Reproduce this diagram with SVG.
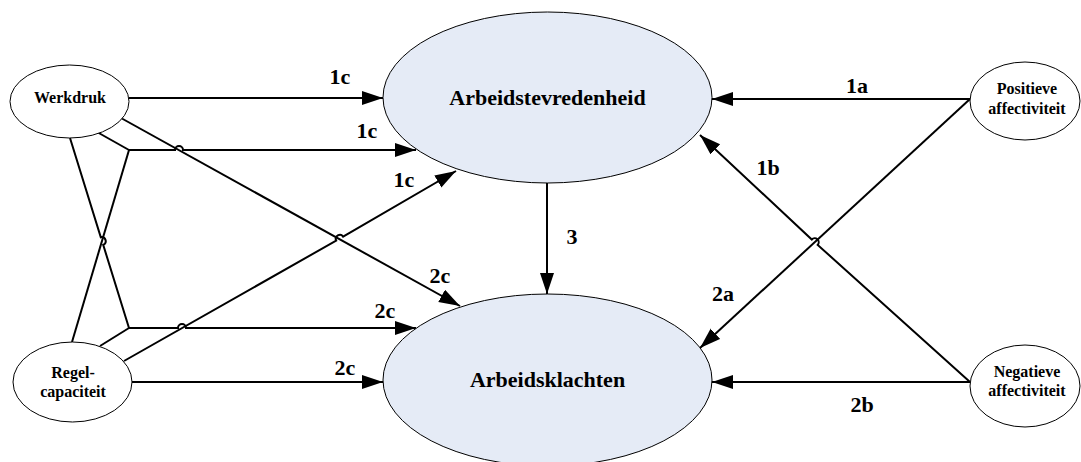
<svg xmlns="http://www.w3.org/2000/svg" width="1081" height="462" viewBox="0 0 1081 462">
  <style>
    .node-main { fill: #e5ebf6; stroke: #000; stroke-width: 1; }
    .node-small { fill: #fff; stroke: #000; stroke-width: 1; }
    .title { font-family: "Liberation Serif", "Times New Roman", serif; font-weight: bold; font-size: 22px; text-anchor: middle; fill: #000; }
    .name { font-family: "Liberation Serif", "Times New Roman", serif; font-weight: bold; font-size: 16px; text-anchor: middle; fill: #000; }
    .label { font-family: "Liberation Serif", "Times New Roman", serif; font-weight: bold; font-size: 22px; text-anchor: middle; fill: #000; }
    .edge { fill: none; stroke: #000; stroke-width: 2; }
    .arrow { marker-end: url(#head); }
  </style>
  <defs>
    <marker id="head" markerUnits="userSpaceOnUse" markerWidth="22" markerHeight="16" refX="21" refY="7" orient="auto">
      <path d="M0,0 L21,7 L0,14 z" fill="#000"/>
    </marker>
  </defs>

  <!-- connectors -->
  <g id="connectors">
    <!-- Werkdruk -> Arbeidstevredenheid -->
    <path class="edge arrow" d="M129,98 H383"/>
    <!-- interaction term into Arbeidstevredenheid -->
    <path class="edge" d="M97,132 L129,150"/>
    <path class="edge" d="M72,342 L129,150"/>
    <path class="edge arrow" d="M129,150 H175 A4,4 0 0 1 183,150 H416"/>
    <!-- Werkdruk -> Arbeidsklachten -->
    <path class="edge arrow" d="M121,118 L460,306"/>
    <!-- interaction term into Arbeidsklachten -->
    <path class="edge" d="M70,138 L100.8,237.2 A4,4 0 0 1 103.2,244.8 L129,328"/>
    <path class="edge" d="M100,346 L129,328"/>
    <path class="edge arrow" d="M129,328 H178 A4,4 0 0 1 186,328 H416"/>
    <!-- Regelcapaciteit -> Arbeidstevredenheid -->
    <path class="edge arrow" d="M124,361 L336.2,240.6 A4,4 0 0 1 343.1,236.6 L456,171"/>
    <!-- Regelcapaciteit -> Arbeidsklachten -->
    <path class="edge arrow" d="M132,382 H383"/>
    <!-- Arbeidstevredenheid -> Arbeidsklachten -->
    <path class="edge arrow" d="M547,183 V294"/>
    <!-- Positieve affectiviteit -->
    <path class="edge arrow" d="M970,99 H712"/>
    <path class="edge arrow" d="M970,99 L700,348"/>
    <!-- Negatieve affectiviteit -->
    <path class="edge arrow" d="M970,382 L817.7,244.9 A4,4 0 0 0 811.8,239.5 L700,135"/>
    <path class="edge arrow" d="M970,382 H712"/>
  </g>

  <!-- path labels -->
  <g id="labels">
    <text class="label" x="340" y="84">1c</text>
    <text class="label" x="367" y="138">1c</text>
    <text class="label" x="404" y="187">1c</text>
    <text class="label" x="440" y="283">2c</text>
    <text class="label" x="385" y="318">2c</text>
    <text class="label" x="345" y="375">2c</text>
    <text class="label" x="572" y="244">3</text>
    <text class="label" x="857" y="93">1a</text>
    <text class="label" x="768" y="175">1b</text>
    <text class="label" x="723" y="301">2a</text>
    <text class="label" x="862" y="412">2b</text>
  </g>

  <g id="node-arbeidstevredenheid">
    <ellipse class="node-main" cx="547.5" cy="97.5" rx="164.5" ry="85.5"/>
    <text class="title" x="547.5" y="105">Arbeidstevredenheid</text>
  </g>
  <g id="node-arbeidsklachten">
    <ellipse class="node-main" cx="547.5" cy="380" rx="164.5" ry="86"/>
    <text class="title" x="547.5" y="387">Arbeidsklachten</text>
  </g>
  <g id="node-werkdruk">
    <ellipse class="node-small" cx="69.5" cy="101.5" rx="59.5" ry="36.5"/>
    <text class="name" x="70" y="103">Werkdruk</text>
  </g>
  <g id="node-regelcapaciteit">
    <ellipse class="node-small" cx="72.5" cy="382" rx="59.5" ry="40"/>
    <text class="name" x="73" y="378">Regel-</text>
    <text class="name" x="73" y="397">capaciteit</text>
  </g>
  <g id="node-positieve">
    <ellipse class="node-small" cx="1025" cy="101" rx="55" ry="39"/>
    <text class="name" x="1027" y="94">Positieve</text>
    <text class="name" x="1027" y="114">affectiviteit</text>
  </g>
  <g id="node-negatieve">
    <ellipse class="node-small" cx="1025" cy="386" rx="55" ry="41"/>
    <text class="name" x="1027" y="377">Negatieve</text>
    <text class="name" x="1027" y="396">affectiviteit</text>
  </g>
</svg>
